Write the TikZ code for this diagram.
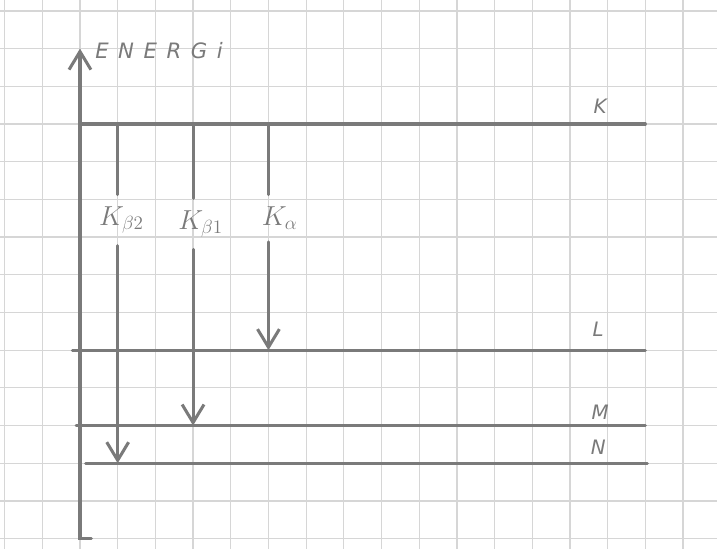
\documentclass[tikz,border=0pt]{standalone}
\usepackage{amsmath, amssymb}
\usepackage{fontspec}
\usepackage{tikz}
\usetikzlibrary{arrows.meta, calc}
\newfontfamily\handfont{DejaVu Sans}
\newfontfamily\handwide{DejaVu Sans}[LetterSpace=45]
\definecolor{pencil}{RGB}{122,122,122}
\definecolor{paperGrid}{RGB}{214,214,214}
\tikzset{
	% pencil strokes on squared paper
	gridline/.style={draw=paperGrid, line width=0.9pt},
	level/.style={draw=pencil, line width=2.3pt, line cap=round},
	transition/.style={draw=pencil, line width=2.3pt, line cap=round},
	tipV/.style={-{Straight Barb[length=4.8mm, width=5.8mm]}},
	hand/.style={text=pencil, font=\handfont\itshape\fontsize{15}{17}\selectfont, inner sep=0pt},
	trans label/.style={text=pencil, font=\huge, inner xsep=2pt, inner ysep=9pt},
}

\begin{document}
\begin{tikzpicture}
	\useasboundingbox (-2.122,-0.27) rectangle (16.90,14.29);
	% squared paper
	\draw[gridline] (-2.122,-0.27) grid (16.90,14.29);

	% energy axis
	\coordinate (origin) at (0,0);
	\coordinate (foot) at (0.3,0);
	\coordinate (axisTop) at (0,13);
	\draw[level, tipV] (foot) -- (origin) -- (axisTop);
	\node[hand, font=\handwide\itshape\fontsize{16}{18}\selectfont, anchor=west] (energi) at (0.4,12.95) {ENERGi};

	% shells
	\coordinate (K-l) at (0,11);     \coordinate (K-r) at (15,11);
	\coordinate (L-l) at (-0.2,5);   \coordinate (L-r) at (15,5);
	\coordinate (M-l) at (-0.1,3);   \coordinate (M-r) at (15,3);
	\coordinate (N-l) at (0.15,2);   \coordinate (N-r) at (15.05,2);
	\foreach \lv in {K,L,M,N}
		\draw[level] (\lv-l) -- (\lv-r);
	\node[hand, anchor=south] (lblK) at (13.8,11.28) {K};
	\node[hand, anchor=south] (lblL) at (13.75,5.35) {L};
	\node[hand, anchor=south] (lblM) at (13.8,3.15) {M};
	\node[hand, anchor=south] (lblN) at (13.75,2.22) {N};

	% transitions
	\coordinate (b2top) at (1,11);  \coordinate (b2bot) at (1,2);
	\coordinate (b1top) at (3,11);  \coordinate (b1bot) at (3,3);
	\coordinate (atop) at (5,11);   \coordinate (abot) at (5,5);
	\node[trans label] (Kb2) at (1.1,8.45) {$K_{\beta 2}$};
	\node[trans label] (Kb1) at (3.2,8.35) {$K_{\beta 1}$};
	\node[trans label] (Ka) at (5.3,8.5) {$K_{\alpha}$};
	\draw[transition] (b2top) -- (b2top |- Kb2.north);
	\draw[transition, tipV] (b2top |- Kb2.south) -- (b2bot);
	\draw[transition] (b1top) -- (b1top |- Kb1.north);
	\draw[transition, tipV] (b1top |- Kb1.south) -- (b1bot);
	\draw[transition] (atop) -- (atop |- Ka.north);
	\draw[transition, tipV] (atop |- Ka.south) -- (abot);
\end{tikzpicture}
\end{document}
